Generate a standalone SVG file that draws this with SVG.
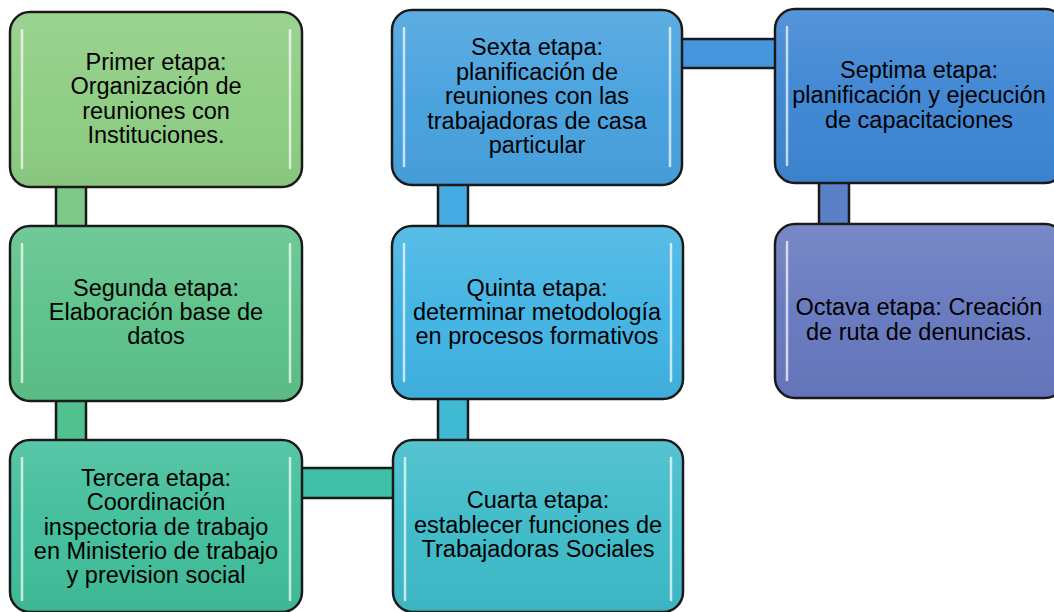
<svg xmlns="http://www.w3.org/2000/svg" width="1054" height="612" viewBox="0 0 1054 612">
<defs>
<linearGradient id="gloss" x1="0" y1="0" x2="0" y2="1">
<stop offset="0" stop-color="#ffffff" stop-opacity="0.12"/>
<stop offset="0.5" stop-color="#ffffff" stop-opacity="0.02"/>
<stop offset="1" stop-color="#000000" stop-opacity="0.04"/>
</linearGradient>
</defs>
<style>
.box{stroke:#1a1a1a;stroke-width:2.5}
.gl{fill:url(#gloss)}
.hl{stroke:#ffffff;stroke-opacity:0.7;stroke-width:2.5;stroke-linecap:round}
.cf{stroke:none}
.cs{stroke:#1a1a1a;stroke-width:2.5;fill:none}
text{font-family:"Liberation Sans",Arial,sans-serif;font-size:23.5px;fill:#000;text-anchor:middle}
</style>
<rect width="1054" height="612" fill="#ffffff"/>
<g id="connectors">
<rect class="cf" x="56" y="185" width="30" height="43" fill="#7ec98a"/>
<path class="cs" d="M56 185V228M86 185V228"/>
<rect class="cf" x="56" y="399" width="30" height="43" fill="#52c190"/>
<path class="cs" d="M56 399V442M86 399V442"/>
<rect class="cf" x="300" y="468" width="95" height="30" fill="#3fbfa8"/>
<path class="cs" d="M300 468H395M300 498H395"/>
<rect class="cf" x="438" y="397" width="30" height="45" fill="#40b9d2"/>
<path class="cs" d="M438 397V442M468 397V442"/>
<rect class="cf" x="438" y="183" width="30" height="45" fill="#45abe2"/>
<path class="cs" d="M438 183V228M468 183V228"/>
<rect class="cf" x="680" y="39" width="97" height="29" fill="#4596dc"/>
<path class="cs" d="M680 39H777M680 68H777"/>
<rect class="cf" x="819" y="181" width="30" height="45" fill="#5a80c8"/>
<path class="cs" d="M819 181V226M849 181V226"/>
</g>
<g id="n1">
<rect class="box" x="10" y="12" width="292" height="175" rx="20" fill="#8ecd83"/>
<rect class="gl" x="11" y="13" width="290" height="173" rx="19"/>
<path class="hl" d="M22 30V168M290 30V168"/>
<text x="156" y="70">Primer etapa:</text>
<text x="156" y="94">Organización de</text>
<text x="156" y="118.5">reuniones con</text>
<text x="156" y="143">Instituciones.</text>
</g>
<g id="n2">
<rect class="box" x="10" y="226" width="292" height="175" rx="20" fill="#5dc28a"/>
<rect class="gl" x="11" y="227" width="290" height="173" rx="19"/>
<path class="hl" d="M22 244V382M290 244V382"/>
<text x="156" y="296">Segunda etapa:</text>
<text x="156" y="320">Elaboración base de</text>
<text x="156" y="344">datos</text>
</g>
<g id="n3">
<rect class="box" x="10" y="440" width="292" height="172" rx="20" fill="#41be9b"/>
<rect class="gl" x="11" y="441" width="290" height="170" rx="19"/>
<path class="hl" d="M22 458V600M290 458V600"/>
<text x="156" y="486">Tercera etapa:</text>
<text x="156" y="510">Coordinación</text>
<text x="156" y="534.5">inspectoria de trabajo</text>
<text x="156" y="558.5">en Ministerio de trabajo</text>
<text x="156" y="583">y prevision social</text>
</g>
<g id="n4">
<rect class="box" x="393" y="440" width="290" height="172" rx="20" fill="#3fbbc9"/>
<rect class="gl" x="394" y="441" width="288" height="170" rx="19"/>
<path class="hl" d="M405 458V600M671 458V600"/>
<text x="538" y="508">Cuarta etapa:</text>
<text x="538" y="533">establecer funciones de</text>
<text x="538" y="557">Trabajadoras Sociales</text>
</g>
<g id="n5">
<rect class="box" x="392" y="226" width="291" height="173" rx="20" fill="#42b4e3"/>
<rect class="gl" x="393" y="227" width="289" height="171" rx="19"/>
<path class="hl" d="M404 244V381M671 244V381"/>
<text x="537" y="296">Quinta etapa:</text>
<text x="537" y="320">determinar metodología</text>
<text x="537" y="344">en procesos formativos</text>
</g>
<g id="n6">
<rect class="box" x="392" y="10" width="290" height="175" rx="20" fill="#48a2de"/>
<rect class="gl" x="393" y="11" width="288" height="173" rx="19"/>
<path class="hl" d="M404 28V166M670 28V166"/>
<text x="537" y="55">Sexta etapa:</text>
<text x="537" y="79.5">planificación de</text>
<text x="537" y="104">reuniones con las</text>
<text x="537" y="128.5">trabajadoras de casa</text>
<text x="537" y="153">particular</text>
</g>
<g id="n7">
<rect class="box" x="775" y="9" width="290" height="174" rx="20" fill="#3e86d3"/>
<rect class="gl" x="776" y="10" width="288" height="172" rx="19"/>
<path class="hl" d="M787 27V165"/>
<text x="919" y="78">Septima etapa:</text>
<text x="919" y="103">planificación y ejecución</text>
<text x="919" y="128">de capacitaciones</text>
</g>
<g id="n8">
<rect class="box" x="775" y="224" width="290" height="174" rx="20" fill="#6779bf"/>
<rect class="gl" x="776" y="225" width="288" height="172" rx="19"/>
<path class="hl" d="M787 242V380"/>
<text x="919" y="315">Octava etapa: Creación</text>
<text x="919" y="340">de ruta de denuncias.</text>
</g>
</svg>
